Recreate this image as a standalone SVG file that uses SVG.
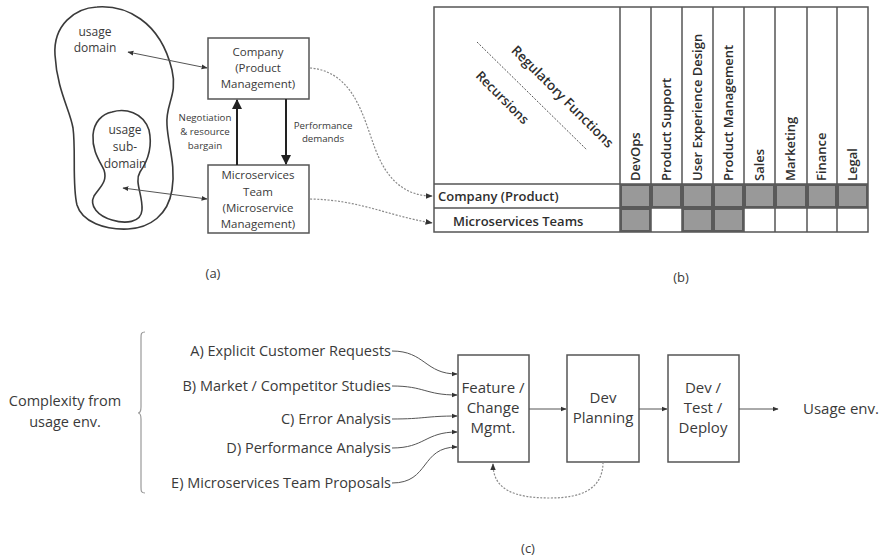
<svg xmlns="http://www.w3.org/2000/svg" width="881" height="559" viewBox="0 0 881 559">
  <defs>
    <style>
      .t { font-family: "Open Sans", "Liberation Sans", sans-serif; fill: #3a3a3a; }
      .s11 { font-size: 11.5px; }
      .s12 { font-size: 12px; }
      .s9 { font-size: 9.7px; }
      .s14 { font-size: 14.5px; }
      .s15 { font-size: 15px; }
      .cap { font-size: 13px; }
      .tb { font-family: "Open Sans", "Liberation Sans", sans-serif; fill: #2e2e2e; font-size: 13px; font-weight: 600; }
      .box { fill: #ffffff; stroke: #555555; stroke-width: 1.5; }
      .blob { fill: none; stroke: #3a3a3a; stroke-width: 1.6; }
      .thin { fill: none; stroke: #555555; stroke-width: 1; }
      .thick { fill: none; stroke: #222222; stroke-width: 2; }
      .dot { fill: none; stroke: #8a8a8a; stroke-width: 1.2; stroke-dasharray: 2 1.5; }
      .grid { fill: none; stroke: #555555; stroke-width: 1.5; }
      .on { fill: #999999; stroke: #5a5a5a; stroke-width: 2; }
    </style>
    <marker id="ah" viewBox="0 0 10 10" refX="9" refY="5" markerWidth="6" markerHeight="6" orient="auto-start-reverse">
      <path d="M0,1 L10,5 L0,9 Z" fill="#333333"/>
    </marker>
    <marker id="ahBig" viewBox="0 0 10 10" refX="9" refY="5" markerWidth="5" markerHeight="5" orient="auto">
      <path d="M0,0 L10,5 L0,10 Z" fill="#222222"/>
    </marker>
  </defs>

  <!-- (a) usage domains -->
  <g id="usage-domain">
    <path class="blob" d="M97,7 C125,5 160,20 172,70 C178,95 165,105 167,125 C168,145 176,165 172,190 C168,215 150,228 128,229 C105,230 82,222 77,205 C72,185 76,150 73,128 C70,110 57,90 55,55 C53,25 75,8 97,7 Z"/>
    <text class="t s12" x="95" y="36" text-anchor="middle">usage</text>
    <text class="t s12" x="95" y="52" text-anchor="middle">domain</text>
  </g>
  <g id="usage-subdomain">
    <path class="blob" d="M112,112 C125,108 143,112 149,130 C153,148 147,162 140,172 C134,182 143,195 142,210 C141,223 125,224 112,220 C98,216 89,206 94,196 C99,188 108,182 104,170 C99,160 92,150 93,135 C94,122 102,114 112,112 Z"/>
    <text class="t s12" x="125" y="134" text-anchor="middle">usage</text>
    <text class="t s12" x="125" y="151" text-anchor="middle">sub-</text>
    <text class="t s12" x="125" y="168" text-anchor="middle">domain</text>
  </g>

  <g id="company">
    <rect class="box" x="208" y="38" width="101" height="61"/>
    <text class="t s11" x="258" y="56" text-anchor="middle">Company</text>
    <text class="t s11" x="258" y="72" text-anchor="middle">(Product</text>
    <text class="t s11" x="258" y="88" text-anchor="middle">Management)</text>
  </g>
  <g id="ms-team">
    <rect class="box" x="208" y="165" width="101" height="68"/>
    <text class="t s11" x="258" y="179" text-anchor="middle">Microservices</text>
    <text class="t s11" x="258" y="196" text-anchor="middle">Team</text>
    <text class="t s11" x="258" y="212" text-anchor="middle">(Microservice</text>
    <text class="t s11" x="258" y="228" text-anchor="middle">Management)</text>
  </g>

  <g id="label-negotiation">
    <text class="t s9" x="205" y="121" text-anchor="middle">Negotiation</text>
    <text class="t s9" x="205" y="135" text-anchor="middle">&amp; resource</text>
    <text class="t s9" x="205" y="149" text-anchor="middle">bargain</text>
  </g>
  <g id="label-performance">
    <text class="t s9" x="323" y="129" text-anchor="middle">Performance</text>
    <text class="t s9" x="323" y="142" text-anchor="middle">demands</text>
  </g>
  <text class="t cap" x="213" y="278" text-anchor="middle">(a)</text>

  <!-- (b) table -->
  <g id="table">
    <rect class="grid" x="434" y="7" width="434" height="225"/>
    <line class="grid" x1="434" y1="184" x2="868" y2="184"/>
    <line class="grid" x1="434" y1="208" x2="868" y2="208"/>
    <g class="grid">
      <line x1="620" y1="7" x2="620" y2="232"/>
      <line x1="651" y1="7" x2="651" y2="232"/>
      <line x1="682" y1="7" x2="682" y2="232"/>
      <line x1="713" y1="7" x2="713" y2="232"/>
      <line x1="744" y1="7" x2="744" y2="232"/>
      <line x1="775" y1="7" x2="775" y2="232"/>
      <line x1="807" y1="7" x2="807" y2="232"/>
      <line x1="837" y1="7" x2="837" y2="232"/>
    </g>
    <!-- active cells -->
    <rect class="on" x="621" y="185" width="29" height="22"/>
    <rect class="on" x="652" y="185" width="29" height="22"/>
    <rect class="on" x="683" y="185" width="29" height="22"/>
    <rect class="on" x="714" y="185" width="29" height="22"/>
    <rect class="on" x="745" y="185" width="29" height="22"/>
    <rect class="on" x="776" y="185" width="30" height="22"/>
    <rect class="on" x="808" y="185" width="28" height="22"/>
    <rect class="on" x="838" y="185" width="29" height="22"/>
    <rect class="on" x="621" y="209" width="29" height="22"/>
    <rect class="on" x="683" y="209" width="29" height="22"/>
    <rect class="on" x="714" y="209" width="29" height="22"/>

    <!-- column headers -->
    <g class="tb">
      <text transform="translate(640,181) rotate(-90)">DevOps</text>
      <text transform="translate(671,181) rotate(-90)">Product Support</text>
      <text transform="translate(702,181) rotate(-90)">User Experience Design</text>
      <text transform="translate(733,181) rotate(-90)">Product Management</text>
      <text transform="translate(764,181) rotate(-90)">Sales</text>
      <text transform="translate(795,181) rotate(-90)">Marketing</text>
      <text transform="translate(826,181) rotate(-90)">Finance</text>
      <text transform="translate(857,181) rotate(-90)">Legal</text>
    </g>
    <line x1="477" y1="42" x2="587" y2="150" stroke="#555555" stroke-width="1" stroke-dasharray="2 1.5"/>
    <text class="tb" transform="translate(562,97) rotate(45)" text-anchor="middle" y="4" style="font-size:13.5px">Regulatory Functions</text>
    <text class="tb" transform="translate(502,98) rotate(45)" text-anchor="middle" y="4">Recursions</text>
    <text class="tb" x="438" y="201">Company (Product)</text>
    <text class="tb" x="453" y="226">Microservices Teams</text>
  </g>
  <text class="t cap" x="681" y="282" text-anchor="middle">(b)</text>

  <!-- (c) process -->
  <g id="complexity">
    <text class="t s14" x="65" y="406" text-anchor="middle">Complexity from</text>
    <text class="t s14" x="65" y="427" text-anchor="middle">usage env.</text>
    <path d="M145,332 C141,332 141,334 141,338 L141,407 C141,411 140,413 138,413 C140,413 141,415 141,419 L141,487 C141,491 141,493 145,493" fill="none" stroke="#9a9a9a" stroke-width="1.2"/>
  </g>
  <g id="inputs" class="t s14" text-anchor="end">
    <text x="391" y="356">A) Explicit Customer Requests</text>
    <text x="391" y="391">B) Market / Competitor Studies</text>
    <text x="391" y="424">C) Error Analysis</text>
    <text x="391" y="453">D) Performance Analysis</text>
    <text x="391" y="488">E) Microservices Team Proposals</text>
  </g>
  <g id="feature-change">
    <rect class="box" x="458" y="355" width="71" height="107"/>
    <text class="t s15" x="493" y="393" text-anchor="middle">Feature /</text>
    <text class="t s15" x="493" y="413" text-anchor="middle">Change</text>
    <text class="t s15" x="493" y="433" text-anchor="middle">Mgmt.</text>
  </g>
  <g id="dev-planning">
    <rect class="box" x="567" y="355" width="72" height="107"/>
    <text class="t s15" x="603" y="403" text-anchor="middle">Dev</text>
    <text class="t s15" x="603" y="423" text-anchor="middle">Planning</text>
  </g>
  <g id="dev-test-deploy">
    <rect class="box" x="668" y="355" width="71" height="107"/>
    <text class="t s15" x="703" y="393" text-anchor="middle">Dev /</text>
    <text class="t s15" x="703" y="413" text-anchor="middle">Test /</text>
    <text class="t s15" x="703" y="433" text-anchor="middle">Deploy</text>
  </g>
  <text class="t s15" x="803" y="414">Usage env.</text>
  <text class="t cap" x="528" y="553" text-anchor="middle">(c)</text>

  <!-- connectors -->
  <g id="connectors">
    <line class="thin" x1="128" y1="52" x2="207" y2="68" marker-start="url(#ah)" marker-end="url(#ah)"/>
    <line class="thin" x1="123" y1="188" x2="207" y2="199" marker-start="url(#ah)" marker-end="url(#ah)"/>
    <line class="thick" x1="237" y1="165" x2="237" y2="100" marker-end="url(#ahBig)"/>
    <line class="thick" x1="286" y1="99" x2="286" y2="164" marker-end="url(#ahBig)"/>
    <path class="dot" d="M310,68 C360,72 365,130 380,160 C392,185 410,196 432,196" marker-end="url(#ah)"/>
    <path class="dot" d="M310,199 C360,200 385,215 432,223" marker-end="url(#ah)"/>

    <path class="thin" d="M392,351 C425,351 425,374 457,374" marker-end="url(#ah)"/>
    <path class="thin" d="M392,386 C425,386 425,395 457,395" marker-end="url(#ah)"/>
    <path class="thin" d="M392,419 C425,419 425,416 457,416" marker-end="url(#ah)"/>
    <path class="thin" d="M392,448 C425,448 425,432 457,432" marker-end="url(#ah)"/>
    <path class="thin" d="M392,483 C430,483 420,447 457,447" marker-end="url(#ah)"/>

    <line class="thin" x1="529" y1="409" x2="566" y2="409" marker-end="url(#ah)"/>
    <line class="thin" x1="639" y1="409" x2="667" y2="409" marker-end="url(#ah)"/>
    <line class="thin" x1="739" y1="409" x2="778" y2="409" marker-end="url(#ah)"/>
    <path class="dot" d="M603,462 C603,490 580,498 550,498 C515,498 493,490 493,464" marker-end="url(#ah)"/>
  </g>
</svg>
